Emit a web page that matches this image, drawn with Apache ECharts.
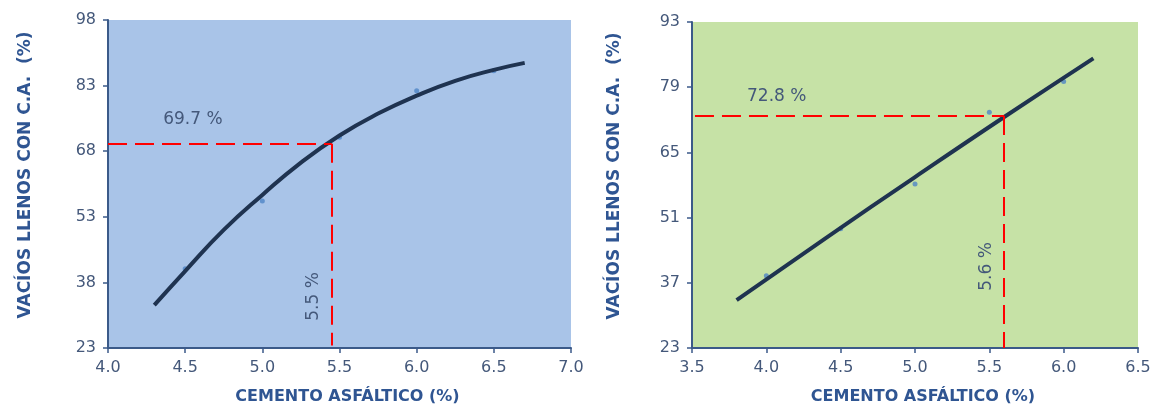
<!DOCTYPE html>
<html>
<head>
<meta charset="utf-8">
<script src="https://cdn.jsdelivr.net/npm/echarts@6/dist/echarts.min.js"></script>
<style>
  html, body { margin: 0; padding: 0; background: #fff; }
  #main { width: 1158px; height: 410px; }
</style>
</head>
<body>
<div id="main"></div>
<script>
// left chart: curve fit + measured points
const leftX = [4.3, 4.5, 4.75, 5.0, 5.25, 5.5, 5.75, 6.0, 6.25, 6.5, 6.7];
const leftFit = [32.8, 40.6, 50.0, 58.0, 65.4, 71.6, 76.6, 80.7, 84.1, 86.6, 88.2];
const leftDotsX = [4.5, 5.0, 5.5, 6.0, 6.5];
const leftDots = [41.1, 56.6, 71.2, 81.8, 86.4];
const leftXTicks = [4.0, 4.5, 5.0, 5.5, 6.0, 6.5, 7.0];
const leftYTicks = [23, 38, 53, 68, 83, 98];
const leftRef = [5.45, 69.7];   // red dashed intersection
const leftRefLabels = ["69.7 %", "5.5 %"];

// right chart: straight fit + measured points
const rightX = [3.8, 4.4, 5.0, 5.6, 6.2];
const rightFit = [33.3, 46.6, 59.7, 72.6, 85.2];
const rightDotsX = [4.0, 4.5, 5.0, 5.5, 6.0];
const rightDots = [38.5, 48.6, 58.2, 73.6, 80.2];
const rightXTicks = [3.5, 4.0, 4.5, 5.0, 5.5, 6.0, 6.5];
const rightYTicks = [23, 37, 51, 65, 79, 93];
const rightRef = [5.6, 72.8];
const rightRefLabels = ["72.8 %", "5.6 %"];

const xName = "CEMENTO ASFÁLTICO (%)";
const yName = "VACÍOS LLENOS CON C.A.  (%)";

const axisColor = "#3b5a89";
const labelColor = "#44587a";
const titleColor = "#2f5592";
const font = "DejaVu Sans, sans-serif";

function zip(xs, ys) {
  return xs.map((x, i) => [x, ys[i]]);
}

function xAxisFor(idx, ticks) {
  return {
    type: "value",
    gridIndex: idx,
    min: ticks[0],
    max: ticks[ticks.length - 1],
    name: xName,
    nameLocation: "middle",
    nameGap: 41,
    nameTextStyle: {
      color: titleColor, fontWeight: "bold", fontSize: 16, fontFamily: font,
      padding: [0, 0, 0, 16],
    },
    axisLine: { lineStyle: { color: axisColor, width: 2 } },
    axisTick: { show: true, length: 5, customValues: ticks, lineStyle: { color: axisColor, width: 1.5 } },
    axisLabel: {
      customValues: ticks,
      color: labelColor, fontSize: 16, fontFamily: font, margin: 12,
      formatter: (v) => v.toFixed(1),
    },
    splitLine: { show: false },
  };
}

function yAxisFor(idx, ticks, gap) {
  return {
    type: "value",
    gridIndex: idx,
    min: ticks[0],
    max: ticks[ticks.length - 1],
    name: yName,
    nameLocation: "middle",
    nameGap: gap,
    nameTextStyle: {
      color: titleColor, fontWeight: "bold", fontSize: 17, fontFamily: font,
      padding: [0, 0, 0, 18],
    },
    axisLine: { show: true, lineStyle: { color: axisColor, width: 2 } },
    axisTick: { show: true, length: 5, customValues: ticks, lineStyle: { color: axisColor, width: 1.5 } },
    axisLabel: { customValues: ticks, color: labelColor, fontSize: 16, fontFamily: font, margin: 12 },
    splitLine: { show: false },
  };
}

function refLines(ref, xMin, yBottom) {
  return {
    silent: true,
    symbol: ["none", "none"],
    label: { show: false },
    lineStyle: { color: "#ff0000", width: 2, type: [19, 8] },
    data: [
      [{ coord: [xMin, ref[1]] }, { coord: [ref[0], ref[1]] }],
      [{ coord: [ref[0], ref[1]] }, { coord: [ref[0], yBottom] }],
    ],
  };
}

function refText(texts, hPos, vPos) {
  return {
    symbol: "circle",
    symbolSize: 1,
    silent: true,
    itemStyle: { color: "transparent" },
    label: { show: true, color: labelColor, fontSize: 17, fontFamily: font, position: "inside" },
    data: [
      { coord: hPos, value: texts[0], label: { formatter: texts[0] } },
      { coord: vPos, value: texts[1], label: { formatter: texts[1], rotate: 90 } },
    ],
  };
}

function seriesFor(idx, fitX, fitY, dotX, dotY, ref, xMin, yBottom, texts, hPos, vPos) {
  return [
    {
      type: "scatter",
      xAxisIndex: idx, yAxisIndex: idx,
      data: zip(dotX, dotY),
      symbolSize: 5,
      itemStyle: { color: "#4f86c6" },
      z: 2,
    },
    {
      type: "line",
      xAxisIndex: idx, yAxisIndex: idx,
      data: zip(fitX, fitY),
      smooth: true,
      showSymbol: false,
      lineStyle: { color: "#1f3350", width: 4 },
      z: 3,
    },
    {
      type: "scatter",
      xAxisIndex: idx, yAxisIndex: idx,
      data: [],
      markLine: refLines(ref, xMin, yBottom),
      markPoint: refText(texts, hPos, vPos),
      z: 4,
    },
  ];
}

const myChart = echarts.init(document.getElementById("main"));
myChart.setOption({
  animation: false,
  grid: [
    { left: 108, top: 20, width: 463, height: 329, show: true, backgroundColor: "#a9c4e8", borderWidth: 0 },
    { left: 692, top: 22, width: 446, height: 328, show: true, backgroundColor: "#c6e2a6", borderWidth: 0 },
  ],
  xAxis: [xAxisFor(0, leftXTicks), xAxisFor(1, rightXTicks)],
  yAxis: [yAxisFor(0, leftYTicks, 74), yAxisFor(1, rightYTicks, 69)],
  series: [
    ...seriesFor(0, leftX, leftFit, leftDotsX, leftDots, leftRef, 4.0, 23.6,
      leftRefLabels, [4.55, 75.3], [5.33, 34.8]),
    ...seriesFor(1, rightX, rightFit, rightDotsX, rightDots, rightRef, 3.52, 23,
      rightRefLabels, [4.07, 76.9], [5.48, 40.5]),
  ],
});
window.onresize = myChart.resize;
</script>
</body>
</html>
